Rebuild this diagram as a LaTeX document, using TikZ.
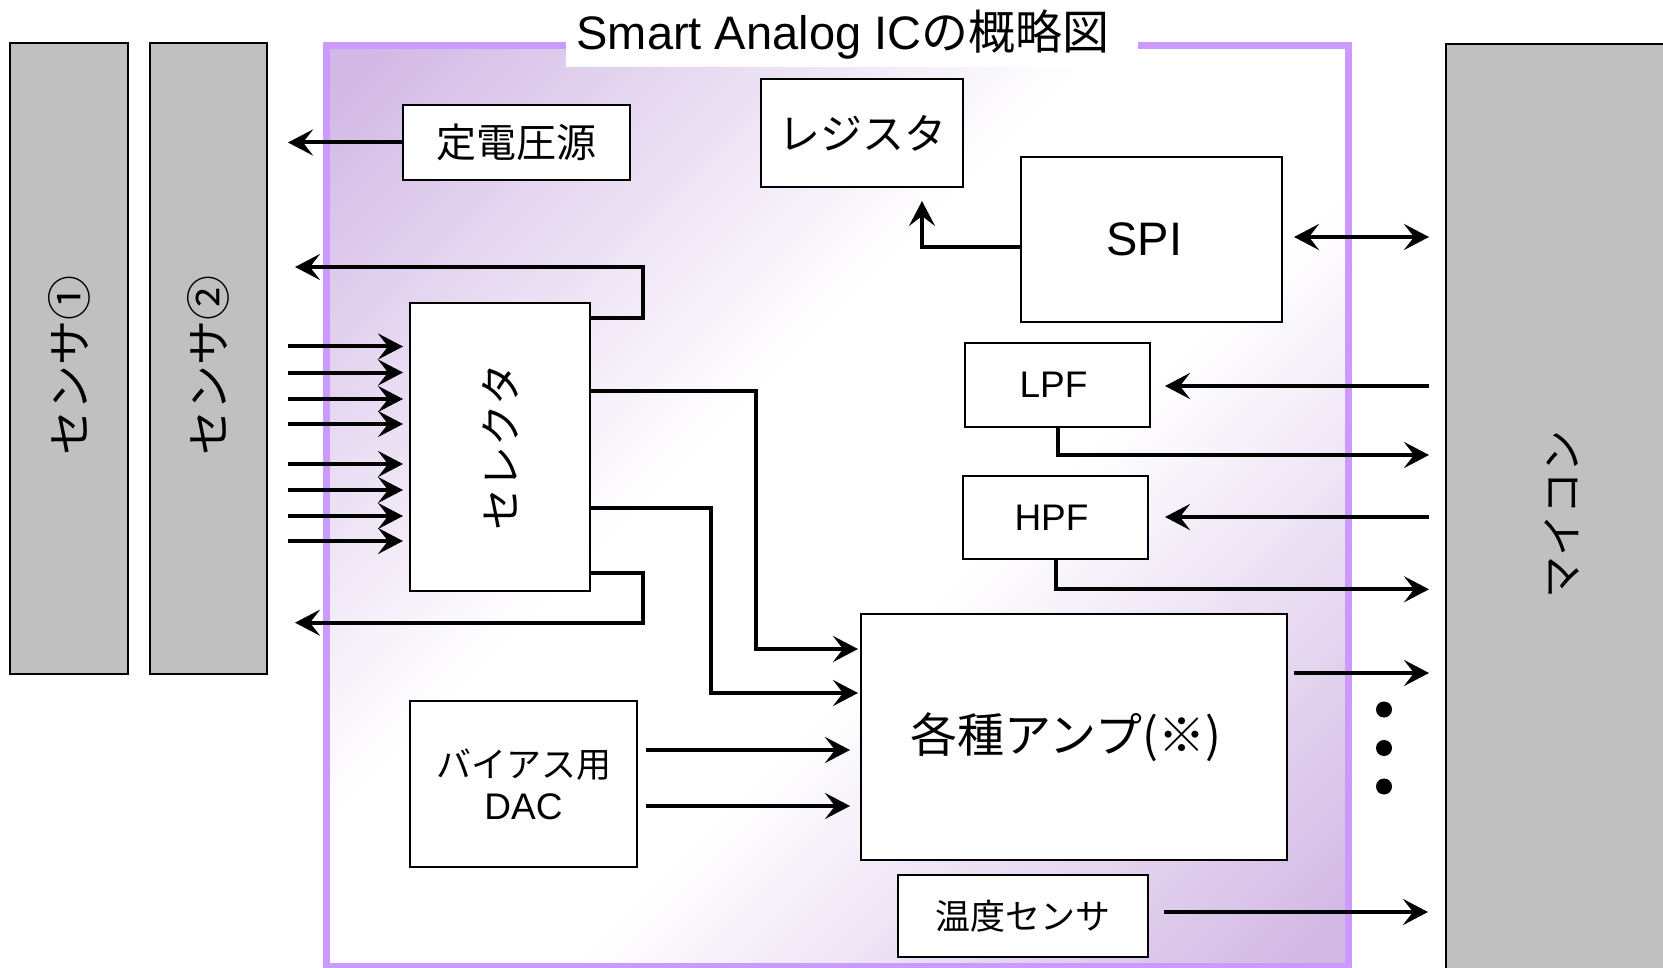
\documentclass[tikz,border=0pt]{standalone}
\usepackage{fontspec}
\usepackage{graphicx}
\setmainfont{Liberation Sans}
\newfontfamily\jp{Noto Sans CJK JP}
\usetikzlibrary{arrows.meta,calc}
\definecolor{framec}{RGB}{204,153,255}
\definecolor{fillc}{RGB}{210,184,229}
\definecolor{grayc}{RGB}{192,192,192}
\pgfdeclareverticalshading{icshade}{100bp}{color(0bp)=(fillc); color(16bp)=(fillc); color(43bp)=(white); color(57bp)=(white); color(84bp)=(fillc); color(100bp)=(fillc)}
\newcommand{\fs}[1]{\fontsize{#1}{#1}\selectfont}
\begin{document}
\begin{tikzpicture}[x=1pt,y=-1pt,
  box/.style={draw=black, line width=2pt, fill=white, inner sep=0pt, align=center},
  gbox/.style={draw=black, line width=2pt, fill=grayc, inner sep=0pt},
  conn/.style={line width=4pt, line join=miter},
  tip/.tip={Stealth[length=25pt,width=26pt,inset=10pt]},
  arr/.style={conn, -tip},
  darr/.style={conn, tip-tip},
  dot/.style={circle, fill=black, minimum size=16pt, inner sep=0pt}]
\useasboundingbox (0,0) rectangle (1663,968);
% IC frame
\shade[shading=icshade, shading angle=45] (326,46) rectangle (1348,966);
\draw[framec, line width=7pt] (326,966) -- (326,46) -- (1348,46) -- (1348,966) -- cycle;
\node[fill=white, minimum width=572pt, minimum height=64pt, inner sep=0pt] (titlebg) at (852,35) {};
\node[anchor=base, inner sep=0pt] (title) at (843,50) {\fs{47}Smart Analog IC{\jp の概略図}};
% sensors and MCU
\node[gbox, minimum width=118pt, minimum height=631pt] (s1) at (69,358.5) {\rotatebox{90}{\fs{45}\jp センサ①\hspace*{14pt}}};
\node[gbox, minimum width=117pt, minimum height=631pt] (s2) at (208.5,358.5) {\rotatebox{90}{\fs{45}\jp センサ②\hspace*{14pt}}};
\node[gbox, minimum width=232pt, minimum height=940pt] (mcu) at (1562,514) {\rotatebox{90}{\fs{42}\jp マイコン}};
% blocks
\node[box, minimum width=227pt, minimum height=75pt] (teiden) at (516.5,142.5) {\fs{40}\jp 定電圧源};
\node[box, minimum width=202pt, minimum height=108pt] (reg) at (862,133) {\fs{42}\jp レジスタ};
\node[box, minimum width=261pt, minimum height=165pt] (spi) at (1151.5,239.5) {\fs{47}SPI\hspace*{14pt}};
\node[box, minimum width=185pt, minimum height=83pt] (lpf) at (1057.5,385) {\fs{37}LPF\hspace*{8pt}};
\node[box, minimum width=185pt, minimum height=83pt] (hpf) at (1055.5,517.5) {\fs{37}HPF\hspace*{8pt}};
\node[box, minimum width=180pt, minimum height=288pt] (sel) at (500,447) {\rotatebox{90}{\fs{42}\jp セレクタ}};
\node[box, minimum width=426pt, minimum height=246pt] (amp) at (1074,737) {\fs{47}\jp 各種アンプ(※)\hspace*{16pt}};
\node[box, minimum width=227pt, minimum height=166pt] (dac) at (523.5,784) {{\fs{35}\jp バイアス用}\\[12pt]{\fs{37}DAC}};
\node[box, minimum width=250pt, minimum height=82pt] (temp) at (1023,916) {\fs{35}\jp 温度センサ};
% dots
\node[dot] (d1) at (1384,709.5) {};
\node[dot] (d2) at (1384,748) {};
\node[dot] (d3) at (1384,786.5) {};
% connectors
\coordinate (vout) at (288,142.5);
\draw[arr] (teiden.west) -- (vout);
\coordinate (fbt) at (295,267);
\coordinate (fbb) at (295,622.7);
\draw[arr] (sel.east |- 0,318) -| (643,267) -- (fbt);
\draw[arr] (sel.east |- 0,572.7) -| (643,622.7) -- (fbb);
\foreach \y [count=\i] in {346.5,372.5,399,424,464,490,516,541}{
  \coordinate (in\i) at (288,\y);
  \draw[arr, shorten >=6pt] (in\i) -- (in\i -| sel.west);
}
\draw[arr, shorten >=2pt] (sel.east |- 0,391) -| (756,649) -- (amp.west |- 0,649);
\draw[arr, shorten >=2pt] (sel.east |- 0,508) -| (711,693) -- (amp.west |- 0,693);
\draw[arr, shorten <=8pt, shorten >=10pt] (dac.east |- 0,750) -- (amp.west |- 0,750);
\draw[arr, shorten <=8pt, shorten >=10pt] (dac.east |- 0,806) -- (amp.west |- 0,806);
\draw[arr, shorten <=6pt, shorten >=16pt] (amp.east |- 0,673) -- (mcu.west |- 0,673);
\draw[arr, shorten <=15pt, shorten >=17pt] (temp.east |- 0,912) -- (mcu.west |- 0,912);
\draw[darr, shorten <=11pt, shorten >=16pt] (spi.east |- 0,237) -- (mcu.west |- 0,237);
\draw[arr, shorten <=16pt, shorten >=14pt] (mcu.west |- 0,386) -- (lpf.east |- 0,386);
\draw[arr, shorten >=16pt] (lpf.south) |- (mcu.west |- 0,455);
\draw[arr, shorten <=16pt, shorten >=16pt] (mcu.west |- 0,517) -- (hpf.east |- 0,517);
\draw[arr, shorten >=16pt] (hpf.south) |- (mcu.west |- 0,589.3);
\draw[arr, shorten >=13pt] (spi.west |- 0,247) -| (reg.south -| 922,0);
\end{tikzpicture}
\end{document}
